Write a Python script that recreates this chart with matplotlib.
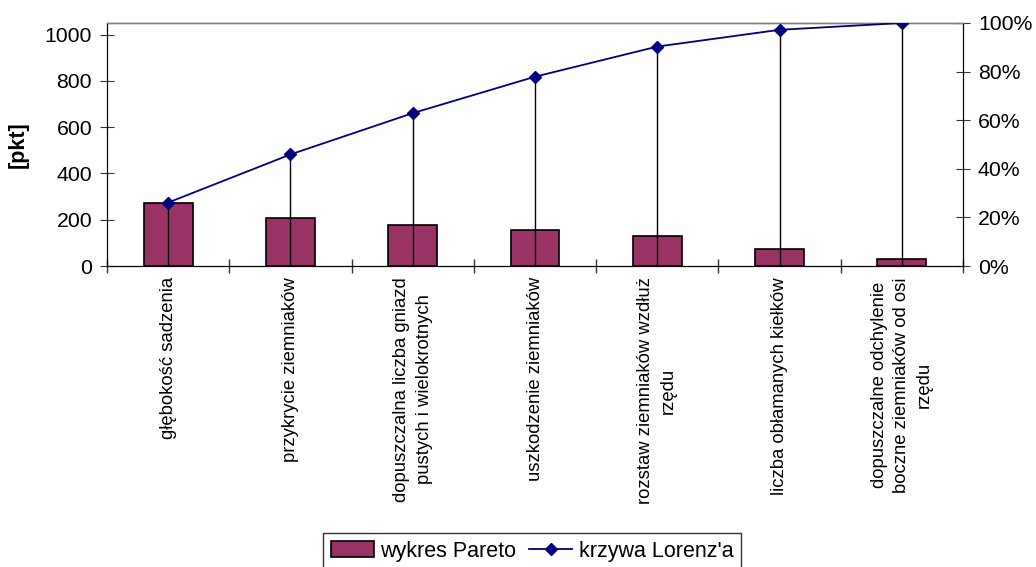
import matplotlib
matplotlib.use("Agg")
import matplotlib.pyplot as plt
import numpy as np

plt.rcParams["font.family"] = ["Liberation Sans", "DejaVu Sans"]

categories = [
    "głębokość sadzenia",
    "przykrycie ziemniaków",
    "dopuszczalna liczba gniazd\npustych i wielokrotnych",
    "uszkodzenie ziemniaków",
    "rozstaw ziemniaków wzdłuż\nrzędu",
    "liczba obłamanych kiełków",
    "dopuszczalne odchylenie\nboczne ziemniaków od osi\nrzędu",
]
pareto = [273, 207, 177, 157, 130, 72, 29]
lorenz = [26.1, 45.9, 62.9, 77.9, 90.3, 97.2, 100.0]

bar_color = "#993366"
line_color = "#000080"

fig = plt.figure(figsize=(10.36, 5.67), dpi=100)
ax = fig.add_axes([107 / 1036, 1 - 266 / 567, (963 - 107) / 1036, (266 - 23) / 567])
ax2 = ax.twinx()

x = np.arange(len(categories))
bars = ax.bar(x, pareto, width=0.4, color=bar_color, edgecolor="black",
              linewidth=1.2, label="wykres Pareto", zorder=2)

# drop lines from the cumulative points down to the axis
ax2.vlines(x, 0, lorenz, colors="black", linewidth=1, zorder=1)
line, = ax2.plot(x, lorenz, color=line_color, linewidth=1.3, marker="D",
                 markersize=6.5, label="krzywa Lorenz'a", zorder=3)

ax.set_xlim(-0.5, len(categories) - 0.5)
ax.set_ylim(0, 1050)
ax2.set_ylim(0, 100)

ax.set_yticks([0, 200, 400, 600, 800, 1000])
ax2.set_yticks([0, 20, 40, 60, 80, 100])
ax2.set_yticklabels([f"{v}%" for v in [0, 20, 40, 60, 80, 100]])

ax.set_xticks(np.arange(len(categories) + 1) - 0.5)
ax.set_xticklabels([])
ax.set_xticks(x, minor=True)
ax.set_xticklabels(categories, minor=True, rotation=90, ha="center", va="top",
                   multialignment="center", fontsize=13.3, linespacing=1.45)
ax.tick_params(axis="x", which="minor", length=0, pad=8)
ax.tick_params(axis="x", which="major", direction="inout", length=9.5, width=1,
               color="#333333")

ax.tick_params(axis="y", direction="inout", length=9.5, labelsize=15.3, pad=6,
               color="#333333")
ax2.tick_params(axis="y", direction="inout", length=9.5, labelsize=15.3, pad=6,
                color="#333333")

for a in (ax, ax2):
    a.spines["top"].set_color("#808080")
    a.spines["left"].set_color("black")
    a.spines["bottom"].set_color("black")
    a.spines["right"].set_color("black")
    a.spines["top"].set_linewidth(1)

ax.set_ylabel("[pkt]", fontsize=15.5, fontweight="bold")
ax.yaxis.set_label_coords(-0.091, 0.5)

leg = fig.legend([bars, line], ["wykres Pareto", "krzywa Lorenz'a"], ncol=2,
                 loc="upper center", bbox_to_anchor=(532 / 1036, 1 - 533 / 567),
                 fontsize=15.5, frameon=True, fancybox=False, edgecolor="black",
                 handlelength=2.0, handletextpad=0.3, columnspacing=0.6,
                 borderpad=0.35, borderaxespad=0)
leg.get_frame().set_linewidth(1)

fig.savefig("out.png", dpi=100)
